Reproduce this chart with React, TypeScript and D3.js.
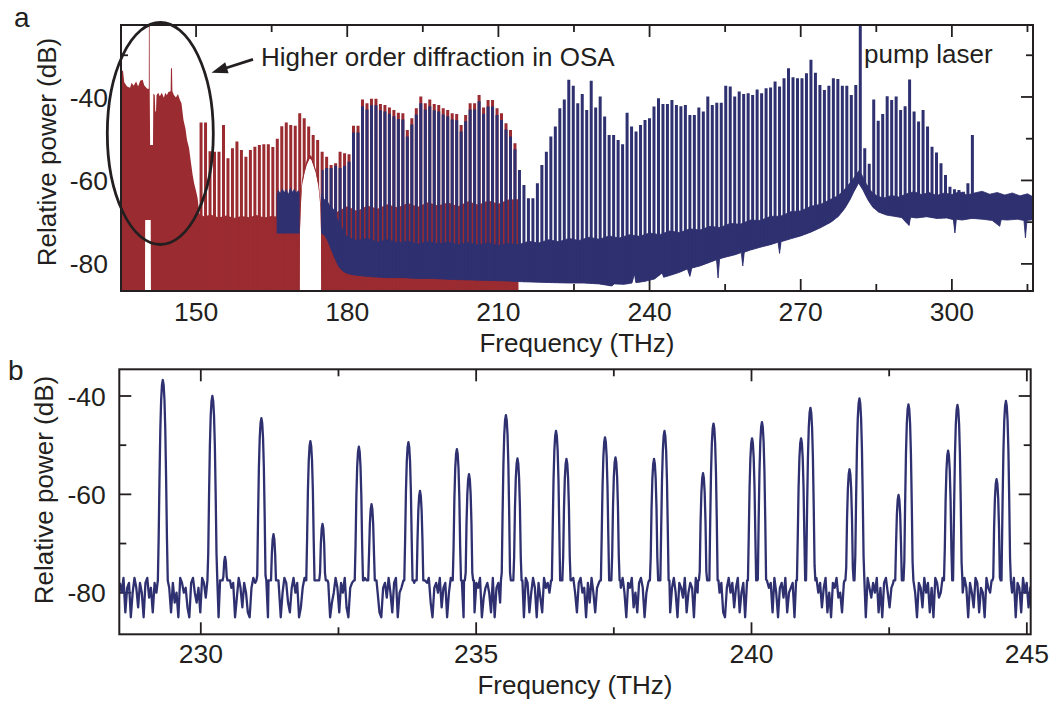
import React from "react";
import * as d3 from "d3";

// ---------- comb grid (both panels share the ~0.89 THz line spacing) ----------
const COMB_START = 150.1; // THz, comb index 0
const COMB_STEP = 0.89; // THz

// ---------- panel a : red (OSA, higher order diffraction) comb line peaks, index 1..71 ----------
const RED_FIRST = 1;
const redPeaks = [
  -46.1, -46.1, -53, -53.1, -53.1, -46.7, -54.7, -52.3, -50.7, -52.7,
  -54.3, -52.7, -51.9, -51.5, -51.3, -51.3, -52, -50, -47, -46.1,
  -46.7, -46.9, -43.9, -45.1, -47.1, -49.1, -50.3, -53.1, -54.3, -56.3,
  -55.9, -53.1, -53.5, -53.7, -46.9, -46.9, -40.6, -41.5, -40.4, -40.4,
  -41.7, -41.9, -42.5, -43.1, -43.8, -43.9, -47.9, -45.1, -42.7, -39.9,
  -41.5, -40.6, -41.7, -41.9, -42.7, -43.1, -43.9, -44.1, -46.7, -44.3,
  -41.5, -41.5, -39.5, -42.5, -40.7, -40.7, -42.7, -43.9, -46.3, -47.9,
  -51.1,
];

// ---------- panel a : blue comb line peaks, index 28..173 (index 148 = pump laser) ----------
const BLUE_FIRST = 28;
const bluePeaks = [
  -57.5, -57, -57, -56.5, -57, -56.5, -55.5, -48.5, -48.5, -42.2,
  -43, -42, -42, -43.2, -43.5, -44, -44.6, -45.3, -45.4, -49.5,
  -46.6, -44.2, -41.5, -43, -42.2, -43.2, -43.5, -44.2, -44.6, -45.4,
  -45.6, -48.3, -45.8, -43, -43, -41, -44, -42.3, -42.3, -44.3,
  -45.5, -47.8, -49.5, -52.5,
  // 72..121
  -57.5, -61.1, -64.3, -64.3, -60.7, -56.3, -53.1, -49.5, -47.1, -42.7,
  -40.6, -35.9, -37.3, -41.5, -39.3, -43.1, -36.1, -42.5, -39.9, -44.7,
  -49.1, -49.1, -50.3, -51.3, -43.8, -47.1, -48.3, -46.7, -45.5, -45.1,
  -42.3, -40.3, -41.7, -41.7, -40.7, -41.9, -42.2, -41.9, -44.3, -44.3,
  -42.5, -43.5, -39.9, -41.9, -41.4, -41.4, -37.3, -37.5, -39.9, -38.7,
  // 122..173
  -39.3, -39.1, -39.5, -38.2, -39.1, -37.9, -37.7, -36.3, -37.5, -35.5,
  -33.1, -35.3, -35.5, -35.5, -34.3, -31.1, -34.2, -37.1, -38.3, -37.3,
  -35.5, -35.7, -37.3, -37.3, -39.5, -37.1, -20, -52.3, -56, -40.6,
  -45.7, -44.1, -39.8, -40.7, -39.9, -43.1, -42.2, -35.8, -43.5, -45.9,
  -43.1, -47.1, -51.9, -53.3, -55.9, -58.7, -61.5, -62.1, -62.3, -62.7,
  -60.7, -49.1,
];

// ---------- panel a : red floor envelopes [THz, dB] ----------
const redFloorTop: [number, number][] = [
  [135.1, -33.5], [135.5, -33.8], [135.75, -36.5], [136.3, -37.5], [136.9, -37.8], [137.2, -36.6],
  [137.6, -37.3], [138.1, -36.3], [138.5, -37.5], [138.9, -36.1], [139.4, -35.9], [139.7, -37.2],
  [140.3, -38], [140.62, -38], [140.64, -20], [140.78, -20], [140.8, -38], [140.88, -51.5],
  [141.45, -51.5], [141.52, -39.2], [141.8, -39.5], [141.9, -43.5], [142.05, -43.5], [142.15, -39.6],
  [142.5, -39.0], [142.8, -39.8], [143.2, -39.0], [143.6, -40.2], [143.9, -39.0], [144.2, -39.6],
  [144.5, -38.8], [144.95, -38.6], [145.02, -33.1], [145.22, -33.1], [145.3, -38.6], [145.6, -39.5],
  [146.0, -40.1], [146.4, -39.3], [146.8, -40.7], [147.1, -41.5], [147.5, -45.5], [147.9, -47.6],
  [148.2, -50.3], [148.6, -52.2], [148.9, -55], [149.3, -58.5], [149.6, -60.6], [150.0, -62.6],
  [150.3, -64.2], [150.65, -68], [151.5, -68.6], [153, -68.2], [154.5, -68.9], [156, -68.4],
  [157.5, -69], [159, -68.5], [160.5, -68.8], [162, -68.3], [163.5, -68.9], [165, -68.5],
  [166.5, -68.7], [168, -68.3], [169.5, -68.8], [170.45, -68.5], [170.6, -66], [171.0, -60],
  [171.5, -57], [172.0, -55], [172.5, -53.8], [172.9, -54.2], [173.3, -55.5], [173.8, -57.5],
  [174.3, -60.5], [174.7, -65], [174.95, -67.5], [176, -66.8], [178, -67.5], [180, -66.2],
  [182, -67.3], [184, -66], [186, -66.8], [188, -65.7], [190, -66.5], [192, -65.4],
  [194, -66.3], [196, -65.2], [198, -66], [200, -65.3], [202, -66.2], [204, -65],
  [206, -65.8], [208, -64.8], [210, -65.6], [212, -64.6], [213.9, -64.5], [214.0, -90],
];
const redFloorBottom: [number, number][] = [
  [135.1, -90], [139.85, -90], [139.9, -69.5], [141.0, -69.5], [141.05, -90], [170.55, -90],
  [170.6, -72.7], [170.75, -67], [171.05, -61], [171.55, -58], [172.05, -56], [172.55, -54.7],
  [172.9, -55.1], [173.3, -56.4], [173.8, -58.4], [174.3, -61.4], [174.65, -66], [174.8, -72.7],
  [174.85, -90], [214.0, -90],
];

// ---------- panel a : blue floor envelopes [THz, dB] ----------
const blueBlockTop: [number, number][] = [
  [166.0, -63.5], [166.3, -62.2], [166.7, -63], [167.1, -61.8], [167.5, -62.8], [167.9, -62],
  [168.3, -63.2], [168.7, -61.6], [169.1, -62.7], [169.5, -62], [169.9, -62.9], [170.3, -62.3],
  [170.55, -63],
];
const blueBlockBottom: [number, number][] = [[166.0, -72.7], [170.55, -72.7]];

const blueBandTop: [number, number][] = [
  [174.9, -63.2], [175.4, -64.6], [176, -64.9], [176.6, -66.2], [177.2, -66.8], [177.8, -68.6],
  [178.4, -70.3], [179, -71.6], [179.6, -73], [180.3, -73.8], [182, -74.4], [184, -73.9],
  [186, -74.8], [188, -74.2], [190, -75], [192, -74.5], [194, -75.3], [196, -74.7],
  [198, -75.2], [200, -74.8], [202, -75.4], [204, -74.9], [206, -75.5], [208, -75],
  [210, -75.6], [212, -75.1], [214, -75.4], [216, -74.6], [218, -75], [220, -74.2],
  [222, -74.7], [224, -73.9], [226, -74.4], [228, -73.6], [230, -74.1], [232, -73.3],
  [234, -73.8], [236, -73], [238, -73.4], [240, -72.6], [242, -73], [244, -72.1],
  [246, -72.5], [248, -71.6], [250, -71.9], [252, -71], [254, -71.3], [256, -70.3],
  [258, -70.5], [260, -69.5], [262, -69.6], [264, -68.6], [266, -68.6], [268, -67.5],
  [270, -67.3], [272, -66.2], [274, -65.7], [276, -64.5], [277.5, -63.6], [278.8, -62],
  [280, -60.3], [281, -58.6], [281.6, -57.6], [282.2, -58.8], [283, -60.8], [284, -62.6],
  [285.2, -63.8], [286.5, -64.2], [288, -63.6], [289.5, -64], [291, -63.2], [292.5, -62.7],
  [294, -63.4], [295.5, -62.9], [297, -63.6], [298.5, -63], [300, -63.4], [301.5, -62.7],
  [303, -63.5], [304.5, -63], [306, -62.6], [307.5, -63.3], [309, -62.9], [310.5, -63.5],
  [312, -63], [313.5, -63.7], [315, -63.2], [316.2, -64],
];
const blueBandBottom: [number, number][] = [
  [174.9, -72.7], [175.5, -73.1], [176.2, -74.6], [176.9, -76.8], [177.6, -78.8], [178.3, -80.6],
  [179, -81.6], [179.8, -82.2], [181, -82.6], [183, -82.9], [185, -83.1], [188, -83.3],
  [191, -83.3], [194, -83.5], [197, -83.5], [200, -83.7], [203, -83.8], [206, -83.9],
  [209, -84], [212, -84.1], [215, -84.3], [218, -84.4], [221, -84.5], [224, -84.6],
  [227, -84.6], [230, -84.8], [232.5, -85.3], [233, -84.8], [235, -84.9], [236.5, -84.6],
  [237, -82.5], [237.3, -84.5], [239, -84.2], [241, -83.6], [242.5, -82.2], [242.8, -83.2],
  [244, -82.8], [246, -82], [247.5, -81.2], [248, -83], [248.4, -81], [250, -80.5],
  [252, -79.6], [253.3, -79], [253.6, -83.4], [253.9, -78.8], [255, -78.4], [257, -77.8],
  [258.2, -77.3], [258.5, -80.5], [258.8, -77.2], [260, -76.7], [262, -76], [264, -75.4],
  [265.5, -74.8], [265.8, -77.5], [266.1, -74.7], [268, -74], [270, -73.3], [272, -72.4],
  [274, -71.3], [276, -70], [277.5, -68.6], [278.7, -66.8], [279.7, -64.8], [280.6, -62.6],
  [281.5, -60.6], [282.4, -62.4], [283.3, -64.6], [284.3, -66.4], [285.5, -67.6], [287, -68.3],
  [288.5, -68.6], [290, -68.9], [291.5, -70.8], [291.8, -68.8], [293, -69], [295, -68.7],
  [297, -69.1], [299, -69], [300.3, -69.4], [300.6, -72.6], [300.9, -69.3], [302, -69.5],
  [304, -69.1], [306, -69.3], [308, -69.6], [309.5, -71], [309.8, -69.4], [311, -69.5],
  [313, -69.3], [314.3, -69.6], [314.6, -73.8], [314.9, -69.6], [316.2, -69.4],
];

// ---------- panel b : resolved lines ----------
const zoomPeakFreq = [
  229.31, 230.21, 230.44, 231.10, 231.32, 231.99, 232.21, 232.87, 233.10, 233.77,
  233.98, 234.65, 234.87, 235.54, 235.75, 236.45, 236.64, 237.34, 237.53, 238.23,
  238.42, 239.12, 239.31, 240.01, 240.19, 240.90, 241.07, 241.78, 241.96, 242.67,
  242.85, 243.57, 243.74, 244.45, 244.62,
];
const zoomPeakDb = [
  -36.75, -40.0, -72.7, -44.5, -68.1, -49.2, -66.0, -50.3, -62.0, -49.4,
  -59.3, -50.8, -55.9, -43.9, -52.7, -47.1, -52.8, -48.4, -52.5, -52.8,
  -47.1, -55.7, -45.6, -48.6, -45.3, -48.6, -42.4, -54.9, -40.5, -60.1,
  -41.7, -51.1, -41.8, -56.9, -41.0,
];
// noise floor samples, starting at 228.53 THz, every 0.0332 THz
const NOISE_START = 228.53;
const NOISE_STEP = 0.0332;
const zoomNoise = [
  -78, -80, -77, -84, -79, -78, -85, -80, -77, -79, -83, -78, -80, -85, -78, -77, -81, -79, -84, -78, -80, -77, -85, -79, -78,
  -81, -77, -79, -84, -78, -82, -80, -85, -77, -78, -80, -79, -83, -85, -78, -77, -80, -82, -79, -84, -77, -78, -81, -85, -80,
  -78, -79, -77, -80, -85, -79, -78, -82, -84, -77, -80, -79, -78, -85, -81, -77, -79, -83, -78, -80, -84, -85, -79, -77, -78,
  -80, -84, -78, -77, -79, -81, -85, -78, -80, -77, -78, -83, -79, -85, -80, -77, -78, -82, -84, -79, -77, -80, -78, -85, -83,
  -79, -77, -78, -84, -80, -85, -79, -77, -81, -78, -80, -84, -77, -79, -78, -85, -82, -80, -77, -79, -84, -78, -80, -77, -83,
  -85, -79, -78, -80, -77, -82, -84, -79, -78, -77, -85, -80, -79, -83, -78, -77, -80, -84, -85, -79, -78, -81, -77, -80, -84,
  -78, -77, -85, -80, -79, -78, -83, -77, -80, -84, -79, -78, -85, -81, -77, -79, -80, -84, -78, -77, -82, -85, -79, -78, -80,
  -77, -83, -79, -78, -85, -80, -77, -79, -84, -78, -81, -77, -80, -85, -79, -78, -77, -83, -80, -84, -78, -79, -77, -85, -81,
  -79, -78, -80, -84, -77, -85, -79, -78, -82, -80, -77, -79, -84, -78, -85, -80, -77, -78, -83, -79, -80, -85, -77, -78, -84,
  -80, -77, -79, -85, -78, -81, -84, -77, -79, -78, -80, -85, -83, -77, -79, -78, -84, -80, -77, -82, -79, -85, -78, -77, -80,
  -84, -78, -77, -80, -79, -85, -78, -82, -77, -80, -84, -79, -78, -77, -85, -80, -81, -78, -79, -84, -77, -80, -83, -78, -79,
  -77, -80, -85, -78, -79, -77, -83, -80, -84, -78, -77, -79, -85, -80, -78, -82, -77, -79, -84, -85, -78, -80, -77, -79, -83,
  -78, -84, -79, -77, -80, -85, -78, -79, -81, -77, -84, -80, -78, -79, -85, -77, -80, -83, -78, -79, -77, -84, -80, -85, -78,
  -79, -77, -82, -80, -78, -84, -85, -79, -77, -80, -78, -83, -79, -77, -84, -80, -78, -85, -79, -81, -77, -78, -80, -84, -79,
  -85, -78, -77, -80, -83, -79, -78, -84, -77, -80, -85, -79, -78, -81, -77, -84, -80, -79, -78, -85, -77, -82, -80, -78, -79,
  -77, -84, -80, -78, -79, -85, -77, -80, -78, -83, -79, -77, -84, -80, -85, -78, -79, -77, -81, -80, -84, -78, -77, -85, -79,
  -80, -78, -83, -77, -79, -80, -84, -78, -85, -77, -79, -81, -78, -80, -77, -84, -79, -85, -78, -77, -80, -83, -79, -78, -84,
  -78, -85, -79, -77, -80, -82, -78, -84, -79, -77, -80, -85, -78, -79, -83, -77, -80, -78, -84, -79, -85, -77, -78, -81, -80,
  -77, -79, -84, -80, -78, -85, -77, -79, -81, -78, -84, -80, -77, -79, -85, -78, -80, -83, -77, -78, -84, -79, -80, -85, -77,
  -79, -80, -77, -83, -78, -79, -85, -80, -77, -84, -78, -79, -82, -80, -77, -85, -78, -79, -84, -77, -80, -78, -83, -79, -78,
];
// line shape of one resolved line (OSA filter), offsets in THz and drop in dB
const PROFILE_DX = [-0.09, -0.075, -0.06, -0.045, -0.03, -0.015, 0, 0.015, 0.03, 0.045, 0.06, 0.075, 0.09];
const PROFILE_DROP = [45, 32, 20, 10, 4, 1, 0, 1, 4, 10, 20, 32, 45];

// ---------- ticks ----------
const aXMajor = [150, 180, 210, 240, 270, 300];
const aXMinor = [165, 195, 225, 255, 285, 315];
const aYMajor = [-40, -60, -80];
const aYMinor = [-30, -50, -70];
const bXMajor = [230, 235, 240, 245];
const bXMinor = [232.5, 237.5, 242.5];
const bYMajor = [-40, -60, -80];
const bYMinor = [-50, -70];

const RED = "#9a2b30";
const BLUE = "#2e3070";
const INK = "#231f20";
const FONT = "'Liberation Sans', Arial, Helvetica, sans-serif";

type Pt = [number, number];

export default function App() {
  // panel a
  const A = { l: 121, r: 1033, t: 25, b: 291 };
  const xA = d3.scaleLinear().domain([135.1, 316.1]).range([A.l, A.r]);
  const yA = d3.scaleLinear().domain([-86.5, -22.75]).range([A.b, A.t]);
  // panel b
  const B = { l: 119.3, r: 1030.7, t: 369.3, b: 634.3 };
  const xB = d3.scaleLinear().domain([228.52, 245.07]).range([B.l, B.r]);
  const yB = d3.scaleLinear().domain([-88.46, -34.57]).range([B.b, B.t]);

  const lineA = d3.line<Pt>().x((d) => xA(d[0])).y((d) => yA(d[1]));
  const poly = (top: Pt[], bottom: Pt[]) => (lineA([...top, ...bottom.slice().reverse()]) || "") + "Z";
  const clipAbove = (bottom: Pt[]) => {
    const f0 = bottom[0][0];
    const f1 = bottom[bottom.length - 1][0];
    return (lineA([[f0, 0], [f1, 0], ...bottom.slice().reverse()]) || "") + "Z";
  };
  const comb = (peaks: number[], first: number) =>
    peaks
      .map((v, i) => {
        const x = xA(COMB_START + (first + i) * COMB_STEP);
        return `M${x.toFixed(2)},${yA(-95).toFixed(2)}V${yA(v).toFixed(2)}`;
      })
      .join("");

  // panel b trace: noise samples away from the lines + line profiles
  const pts: Pt[] = [];
  zoomNoise.forEach((v, i) => {
    const f = NOISE_START + i * NOISE_STEP;
    if (zoomPeakFreq.every((c) => Math.abs(f - c) > 0.095)) pts.push([f, v]);
  });
  zoomPeakFreq.forEach((c, k) => {
    PROFILE_DX.forEach((dx, j) => pts.push([c + dx, Math.max(zoomPeakDb[k] - PROFILE_DROP[j], -77.5)]));
  });
  pts.sort((a, b) => a[0] - b[0]);
  const traceB = d3.line<Pt>().x((d) => xB(d[0])).y((d) => yB(d[1]))(pts) || "";

  const tickStyle = { stroke: INK, strokeWidth: 1.8 };
  const axisTicks = (
    P: { l: number; r: number; t: number; b: number },
    xs: d3.ScaleLinear<number, number>,
    ys: d3.ScaleLinear<number, number>,
    xMaj: number[],
    xMin: number[],
    yMaj: number[],
    yMin: number[]
  ) => {
    const out: React.ReactNode[] = [];
    const xt = (v: number, len: number, key: string) => {
      const x = xs(v);
      out.push(<line key={key + "b"} x1={x} x2={x} y1={P.b} y2={P.b - len} {...tickStyle} />);
      out.push(<line key={key + "t"} x1={x} x2={x} y1={P.t} y2={P.t + len} {...tickStyle} />);
    };
    const yt = (v: number, len: number, key: string) => {
      const y = ys(v);
      out.push(<line key={key + "l"} x1={P.l} x2={P.l + len} y1={y} y2={y} {...tickStyle} />);
      out.push(<line key={key + "r"} x1={P.r} x2={P.r - len} y1={y} y2={y} {...tickStyle} />);
    };
    xMaj.forEach((v) => xt(v, 12, "xM" + v));
    xMin.forEach((v) => xt(v, 7, "xm" + v));
    yMaj.forEach((v) => yt(v, 12, "yM" + v));
    yMin.forEach((v) => yt(v, 7, "ym" + v));
    return out;
  };

  const txt = { fontFamily: FONT, fill: INK } as const;

  return (
    <svg
      width={1054}
      height={702}
      viewBox="0 0 1054 702"
      style={{ position: "absolute", left: 0, top: 0, background: "#fff" }}
    >
      <defs>
        <clipPath id="clipA">
          <rect x={A.l} y={A.t} width={A.r - A.l} height={A.b - A.t} />
        </clipPath>
        <clipPath id="clipB">
          <rect x={B.l} y={B.t} width={B.r - B.l} height={B.b - B.t} />
        </clipPath>
        <clipPath id="clipRedLines">
          <path d={clipAbove(redFloorBottom)} />
        </clipPath>
        <clipPath id="clipBlueLines">
          <path d={clipAbove(blueBandBottom)} />
        </clipPath>
      </defs>
      <rect x={0} y={0} width={1054} height={702} fill="#fff" />

      {/* ---------------- panel a ---------------- */}
      <g>{axisTicks(A, xA, yA, aXMajor, aXMinor, aYMajor, aYMinor)}</g>
      <g clipPath="url(#clipA)">
        <path d={poly(redFloorTop, redFloorBottom)} fill={RED} />
        <g clipPath="url(#clipRedLines)">
          <path d={comb(redPeaks, RED_FIRST)} stroke={RED} strokeWidth={3} fill="none" />
        </g>
        <path d={poly(blueBlockTop, blueBlockBottom)} fill={BLUE} />
        <path d={poly(blueBandTop, blueBandBottom)} fill={BLUE} stroke={BLUE} strokeWidth={0.8} />
        <g clipPath="url(#clipBlueLines)">
          <path d={comb(bluePeaks, BLUE_FIRST)} stroke={BLUE} strokeWidth={3} fill="none" />
        </g>
      </g>
      <rect x={A.l} y={A.t} width={A.r - A.l} height={A.b - A.t} fill="none" stroke={INK} strokeWidth={2} />

      {aXMajor.map((v) => (
        <text key={"axl" + v} x={xA(v)} y={321} textAnchor="middle" fontSize={26.5} {...txt}>
          {v}
        </text>
      ))}
      {aYMajor.map((v) => (
        <text key={"ayl" + v} x={A.l - 13} y={yA(v)} dy="0.36em" textAnchor="end" fontSize={26.5} {...txt}>
          {v}
        </text>
      ))}
      <text x={(A.l + A.r) / 2} y={352} textAnchor="middle" fontSize={26} {...txt}>
        Frequency (THz)
      </text>
      <text transform="translate(55.5,152) rotate(-90)" textAnchor="middle" fontSize={26} {...txt}>
        Relative power (dB)
      </text>
      <text x={14} y={27} fontSize={28} {...txt}>
        a
      </text>

      {/* annotations */}
      <ellipse cx={160.3} cy={133.5} rx={53} ry={111} fill="none" stroke={INK} strokeWidth={2.8} />
      <line x1={253} x2={226} y1={59.3} y2={68} stroke={INK} strokeWidth={2.8} />
      <polygon points="211.5,72.8 225.2,62.2 228.6,73.2" fill={INK} />
      <text x={261} y={65.5} fontSize={26} {...txt}>
        Higher order diffraction in OSA
      </text>
      <text x={864} y={63.3} fontSize={26} {...txt}>
        pump laser
      </text>

      {/* ---------------- panel b ---------------- */}
      <g>{axisTicks(B, xB, yB, bXMajor, bXMinor, bYMajor, bYMinor)}</g>
      <g clipPath="url(#clipB)">
        <path d={traceB} fill="none" stroke={BLUE} strokeWidth={2.3} strokeLinejoin="round" />
      </g>
      <rect x={B.l} y={B.t} width={B.r - B.l} height={B.b - B.t} fill="none" stroke={INK} strokeWidth={2} />
      {bXMajor.map((v) => (
        <text key={"bxl" + v} x={xB(v)} y={663.3} textAnchor="middle" fontSize={26.5} {...txt}>
          {v}
        </text>
      ))}
      {bYMajor.map((v) => (
        <text key={"byl" + v} x={B.l - 13.5} y={yB(v)} dy="0.36em" textAnchor="end" fontSize={26.5} {...txt}>
          {v}
        </text>
      ))}
      <text x={(B.l + B.r) / 2} y={693.6} textAnchor="middle" fontSize={26} {...txt}>
        Frequency (THz)
      </text>
      <text transform="translate(53,490) rotate(-90)" textAnchor="middle" fontSize={26} {...txt}>
        Relative power (dB)
      </text>
      <text x={8} y={380} fontSize={28} {...txt}>
        b
      </text>
    </svg>
  );
}
